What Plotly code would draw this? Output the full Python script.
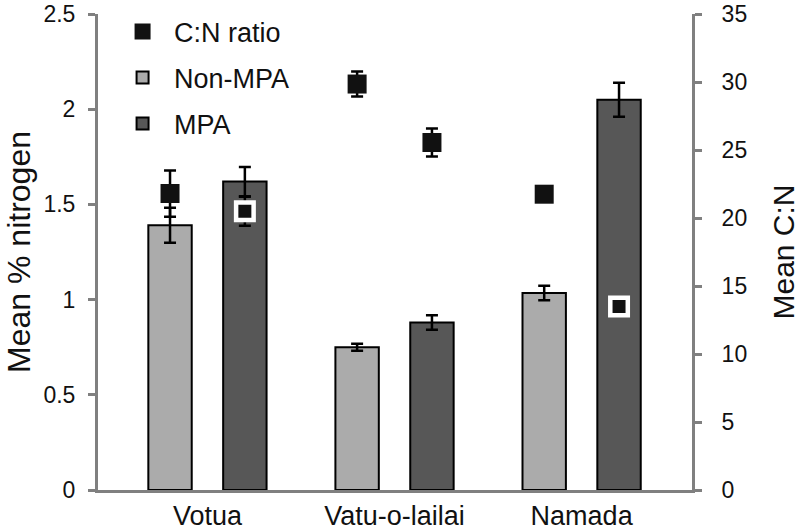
import plotly.graph_objects as go

sites = ["Votua", "Vatu-o-lailai", "Namada"]
nitrogen_non_mpa = [1.39, 0.75, 1.035]
nitrogen_non_mpa_err = [0.092, 0.018, 0.038]
nitrogen_mpa = [1.62, 0.88, 2.05]
nitrogen_mpa_err = [0.077, 0.038, 0.089]
cn_non_mpa = [21.8, 29.85, 21.75]
cn_non_mpa_err = [1.7, 0.92, 0.4]
cn_mpa = [20.5, 25.55, 13.5]
cn_mpa_err = [1.07, 1.03, 0.4]

FONT = "Liberation Sans, Arial, sans-serif"
AXIS_GREY = "#808080"

fig = go.Figure()

fig.add_trace(go.Bar(
    x=sites, y=nitrogen_non_mpa, name="Non-MPA", offsetgroup="non", legendgroup="non",
    marker=dict(color="#ababab", line=dict(color="black", width=2)),
    error_y=dict(type="data", array=nitrogen_non_mpa_err, color="black", thickness=2.5, width=6),
    legendrank=2,
))
fig.add_trace(go.Bar(
    x=sites, y=nitrogen_mpa, name="MPA", offsetgroup="mpa", legendgroup="mpa",
    marker=dict(color="#575757", line=dict(color="black", width=2)),
    error_y=dict(type="data", array=nitrogen_mpa_err, color="black", thickness=2.5, width=6),
    legendrank=3,
))
fig.add_trace(go.Scatter(
    x=sites, y=cn_non_mpa, name="C:N ratio", yaxis="y2", mode="markers", offsetgroup="non",
    legendgroup="cn",
    marker=dict(symbol="square", size=19, color="#111111", opacity=1, line=dict(width=0)),
    error_y=dict(type="data", array=cn_non_mpa_err, color="black", thickness=2.5, width=6),
    legendrank=1,
))
fig.add_trace(go.Scatter(
    x=sites, y=cn_mpa, name="C:N ratio (MPA)", yaxis="y2", mode="markers", offsetgroup="mpa",
    legendgroup="cn",
    marker=dict(symbol="square", size=[17.5, 19, 17.5], color="#111111", opacity=1,
                line=dict(width=[4.5, 0, 4.5], color="white")),
    error_y=dict(type="data", array=cn_mpa_err, color="black", thickness=2.5, width=6),
    showlegend=False,
))

fig.update_layout(
    width=800, height=530,
    margin=dict(l=98, r=108, t=14, b=40, autoexpand=False),
    paper_bgcolor="white", plot_bgcolor="white",
    font=dict(family=FONT, color="#111111"),
    barmode="group", bargap=0.2, bargroupgap=0.42,
    scattermode="group", scattergap=0.2,
    showlegend=True,
    legend=dict(
        x=0.022, y=1.014, xanchor="left", yanchor="top",
        font=dict(size=27, family=FONT, color="#111111"),
        bgcolor="rgba(0,0,0,0)", traceorder="grouped", tracegroupgap=8,
        itemwidth=53,
    ),
    xaxis=dict(
        type="category", range=[-0.585, 2.59],
        showline=True, linecolor=AXIS_GREY, linewidth=3,
        ticks="", showgrid=False, zeroline=False,
        tickfont=dict(size=27, family=FONT, color="#111111"),
    ),
    yaxis=dict(
        range=[0, 2.5], tickvals=[0, 0.5, 1, 1.5, 2, 2.5], ticktext=["0", "0.5", "1", "1.5", "2", "2.5"],
        showline=True, linecolor=AXIS_GREY, linewidth=3,
        ticks="outside", ticklen=7, tickwidth=3, tickcolor=AXIS_GREY,
        showgrid=False, zeroline=False, ticklabelstandoff=8, ticklabeloverflow="allow",
        tickfont=dict(size=23, family=FONT, color="#111111"),
        title=dict(text="Mean % nitrogen", font=dict(size=32, family=FONT, color="#111111"), standoff=4),
    ),
    yaxis2=dict(
        overlaying="y", side="right", range=[0, 35], tickvals=[0, 5, 10, 15, 20, 25, 30, 35],
        showline=True, linecolor=AXIS_GREY, linewidth=3,
        ticks="outside", ticklen=7, tickwidth=3, tickcolor=AXIS_GREY,
        showgrid=False, zeroline=False, ticklabelstandoff=15, ticklabeloverflow="allow",
        tickfont=dict(size=23, family=FONT, color="#111111"),
        title=dict(text="Mean C:N", font=dict(size=30, family=FONT, color="#111111"), standoff=28),
    ),
)

# remove the browser's default 8px body margin so the 800x530 figure fills the window
fig.write_html("out.html", config={"displayModeBar": False},
               post_script="document.body.style.margin='0';")
